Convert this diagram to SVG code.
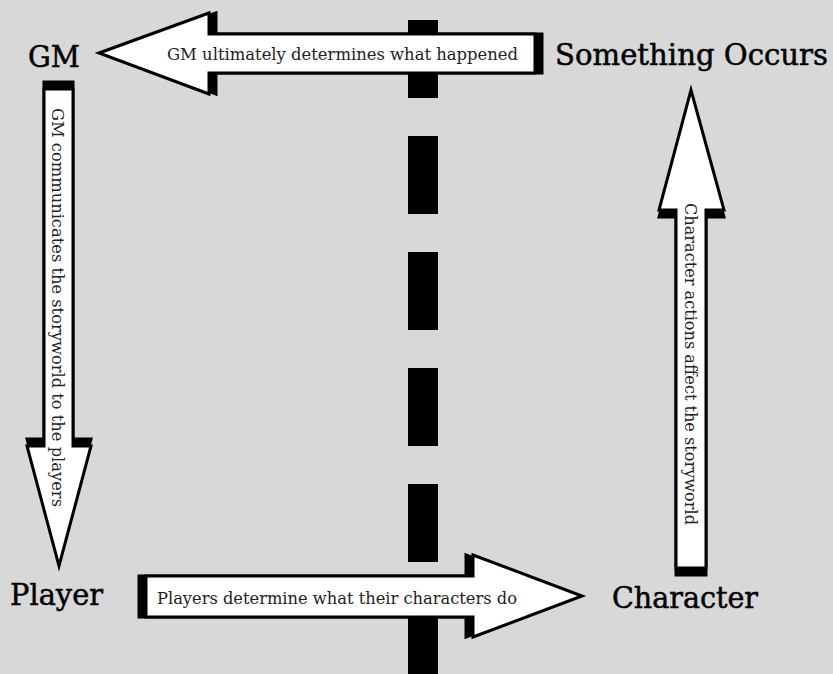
<svg xmlns="http://www.w3.org/2000/svg" width="833" height="674" viewBox="0 0 833 674">
<style>
.bg{fill:#d8d8d8}
.sh{fill:#000;stroke:#000;stroke-width:3;stroke-linejoin:miter}
.ar{fill:#fff;stroke:#000;stroke-width:3;stroke-linejoin:miter}
.lbl{font-family:"DejaVu Serif","Liberation Serif",serif;font-size:29px;fill:#000;stroke:#000;stroke-width:0.5}
.al{font-family:"DejaVu Serif","Liberation Serif",serif;font-size:17.5px;fill:#222}
.div{stroke:#000;stroke-width:30;stroke-dasharray:78 38;fill:none}
</style>
<rect class="bg" x="0" y="0" width="833" height="674"/>
<line class="div" x1="423" y1="20" x2="423" y2="674"/>
<g id="connectors">
  <g id="arrow-gm">
    <polygon class="sh" transform="translate(7,0)" points="99,53 209,13 209,34 535,34 535,73 209,73 209,94"/>
    <polygon class="ar" points="99,53 209,13 209,34 535,34 535,73 209,73 209,94"/>
    <text class="al" x="167" y="60" textLength="351" lengthAdjust="spacingAndGlyphs">GM ultimately determines what happened</text>
  </g>
  <g id="arrow-player">
    <polygon class="sh" transform="translate(0,-7)" points="44,89 73,89 73,446 91,446 59,566 27,446 44,446"/>
    <polygon class="ar" points="44,89 73,89 73,446 91,446 59,566 27,446 44,446"/>
    <text class="al" transform="translate(52,307.5) rotate(90)" x="0" y="0" text-anchor="middle" textLength="399" lengthAdjust="spacingAndGlyphs">GM communicates the storyworld to the players</text>
  </g>
  <g id="arrow-character">
    <polygon class="sh" transform="translate(-7,0)" points="146,576 473,576 473,555 582,596 473,637 473,617 146,617"/>
    <polygon class="ar" points="146,576 473,576 473,555 582,596 473,637 473,617 146,617"/>
    <text class="al" x="157" y="604" textLength="360" lengthAdjust="spacingAndGlyphs">Players determine what their characters do</text>
  </g>
  <g id="arrow-occurs">
    <polygon class="sh" transform="translate(0,7)" points="676,568 676,210 659,210 691,90 724,210 706,210 706,568"/>
    <polygon class="ar" points="676,568 676,210 659,210 691,90 724,210 706,210 706,568"/>
    <text class="al" transform="translate(685,364) rotate(90)" x="0" y="0" text-anchor="middle" textLength="322" lengthAdjust="spacingAndGlyphs">Character actions affect the storyworld</text>
  </g>
</g>
<g id="node-gm"><text class="lbl" x="28" y="67" textLength="52" lengthAdjust="spacingAndGlyphs">GM</text></g>
<g id="node-occurs"><text class="lbl" x="555" y="65" textLength="273" lengthAdjust="spacingAndGlyphs">Something Occurs</text></g>
<g id="node-player"><text class="lbl" x="10" y="605" textLength="93" lengthAdjust="spacingAndGlyphs">Player</text></g>
<g id="node-character"><text class="lbl" x="612" y="608" textLength="146" lengthAdjust="spacingAndGlyphs">Character</text></g>
</svg>
